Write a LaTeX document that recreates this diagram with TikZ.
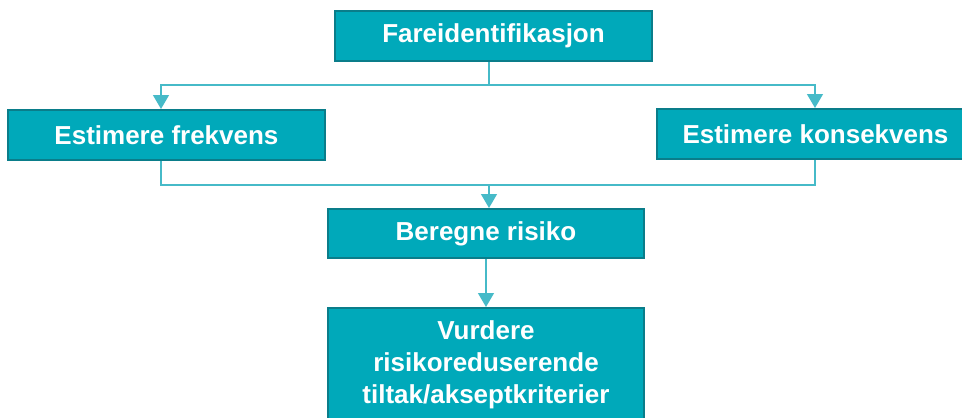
\documentclass[tikz,border=0pt]{standalone}
\usepackage{fontspec}
\setmainfont{Liberation Sans}
\usetikzlibrary{arrows.meta}
\definecolor{boxfill}{RGB}{0,169,186}
\definecolor{boxedge}{RGB}{10,125,138}
\definecolor{linecol}{RGB}{70,186,200}
\tikzset{
  procbox/.style={draw=boxedge, line width=2pt, fill=boxfill, text=white,
    font=\bfseries\fontsize{26}{32}\selectfont, inner sep=0pt, align=center},
  conn/.style={draw=linecol, line width=1.4pt},
  arr/.style={conn, -{Triangle[width=16pt,length=14pt]}}
}
\begin{document}
\begin{tikzpicture}[x=1pt,y=-1pt]
\useasboundingbox (0,0) rectangle (962,418);
\clip (0,0) rectangle (962,418);
\node[procbox, minimum width=317pt, minimum height=50pt] (F) at (493.5,36) {Fareidentifikasjon};
\node[procbox, minimum width=317pt, minimum height=50pt] (EF) at (166.5,135) {Estimere frekvens};
\node[procbox, minimum width=317pt, minimum height=50pt] (EK) at (815.5,134) {Estimere konsekvens};
\node[procbox, minimum width=316pt, minimum height=49pt] (BR) at (486,233.5) {Beregne risiko};
\node[procbox, minimum width=316pt, minimum height=113pt, anchor=north] (V) at (486,307) {};
\node[text=white, font=\bfseries\fontsize{26}{32}\selectfont, align=center] (VT) at (486,365) {Vurdere\\risikoreduserende\\tiltak/akseptkriterier};
\coordinate (J1) at (489,85);
\coordinate (J2) at (489,185);
\draw[conn] ([xshift=-4.5pt]F.south) -- (J1);
\draw[arr] (J1) -| ([xshift=-5.5pt]EF.north);
\draw[arr] (J1) -| ([xshift=-0.5pt]EK.north);
\draw[conn] ([xshift=-5.5pt]EF.south) |- (J2);
\draw[conn] ([xshift=-0.5pt]EK.south) |- (J2);
\draw[arr] (J2) -- ([xshift=3pt]BR.north);
\draw[arr] (BR.south) -- (V.north);
\end{tikzpicture}
\end{document}
